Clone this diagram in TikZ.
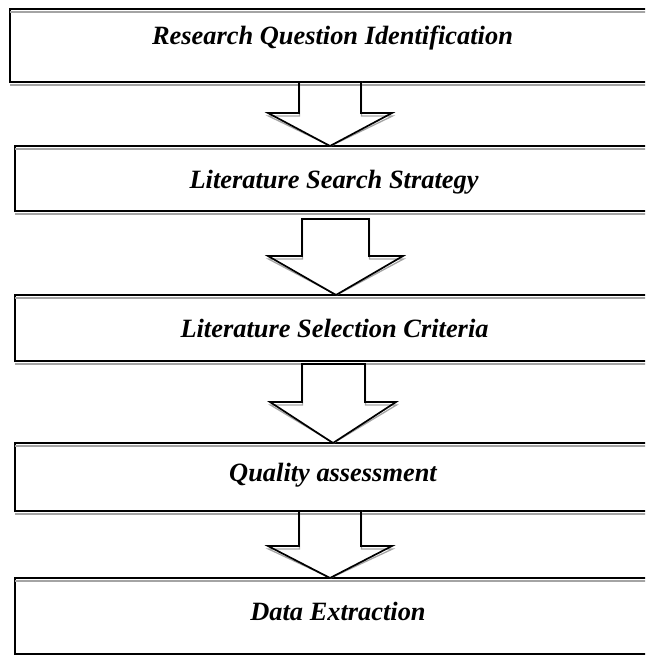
\documentclass[tikz,border=0pt]{standalone}
\usepackage{fontspec}
\setmainfont{Liberation Serif}
\usetikzlibrary{calc}

\definecolor{shadowgray}{HTML}{A4A4A4}

\tikzset{
  box/.style={draw=black, line width=2pt, inner sep=0pt, outer sep=0pt,
              anchor=north west, minimum width=660pt},
  boxshadow/.style={draw=shadowgray, line width=1.3pt},
  label/.style={anchor=base, inner sep=0pt,
                font=\fontsize{26.4}{30}\selectfont\bfseries\itshape},
  arrowline/.style={draw=black, line width=1.7pt, line join=miter},
  arrowshadow/.style={draw=shadowgray, line width=1.3pt, line join=miter}
}

% Block arrow between two boxes.
% #1 upper box, #2 lower box, #3 gap below upper box, #4/#5 shaft left/right,
% #6 shoulder y, #7/#8 head left/right, #9 tip x
\newcommand\blockarrow[9]{%
  \foreach \sty/\dx/\dy in {arrowshadow/0.5/-3, arrowline/0/0}{
    \draw[\sty, shift={(\dx pt,\dy pt)}]
      let \p1=(#1.south), \p2=(#2.north) in
      (#4pt,\y1-#3pt) -- (#5pt,\y1-#3pt) -- (#5pt,-#6pt) -- (#8pt,-#6pt)
      -- (#9pt,\y2) -- (#7pt,-#6pt) -- (#4pt,-#6pt) -- cycle;
  }%
}

\begin{document}
\begin{tikzpicture}[x=1pt,y=1pt]
  \useasboundingbox (0,0) rectangle (645,-655);
  \clip (0,0) rectangle (645,-655);

  % the five process boxes (they run past the right edge)
  \node[box, minimum height=73pt] (b1) at (10,-9) {};
  \node[box, minimum height=65pt] (b2) at (15,-146) {};
  \node[box, minimum height=66pt] (b3) at (15,-295) {};
  \node[box, minimum height=68pt] (b4) at (15,-443) {};
  \node[box, minimum height=76pt] (b5) at (15,-578) {};

  % soft shadows under the top and bottom edges
  \foreach \b in {b1,b2,b3,b4,b5}{
    \draw[boxshadow] ([yshift=-3pt]\b.north west) -- ([yshift=-3pt]\b.north east);
    \draw[boxshadow] ([yshift=-3pt]\b.south west) -- ([yshift=-3pt]\b.south east);
  }

  % box titles
  \node[label] (t1) at (332.5,-45) {Research Question Identification};
  \node[label] (t2) at (334,-189) {Literature Search Strategy};
  \node[label] (t3) at (334.5,-337) {Literature Selection Criteria};
  \node[label] (t4) at (333,-481) {Quality assessment};
  \node[label] (t5) at (338,-620) {Data Extraction};

  % downward block arrows
  \blockarrow{b1}{b2}{0}{299}{361}{113}{268}{392}{330}
  \blockarrow{b2}{b3}{8}{302}{369}{256}{268}{403}{336}
  \blockarrow{b3}{b4}{3}{302}{365}{402}{270}{396}{333}
  \blockarrow{b4}{b5}{0}{299}{361}{546}{268}{392}{330}
\end{tikzpicture}
\end{document}
